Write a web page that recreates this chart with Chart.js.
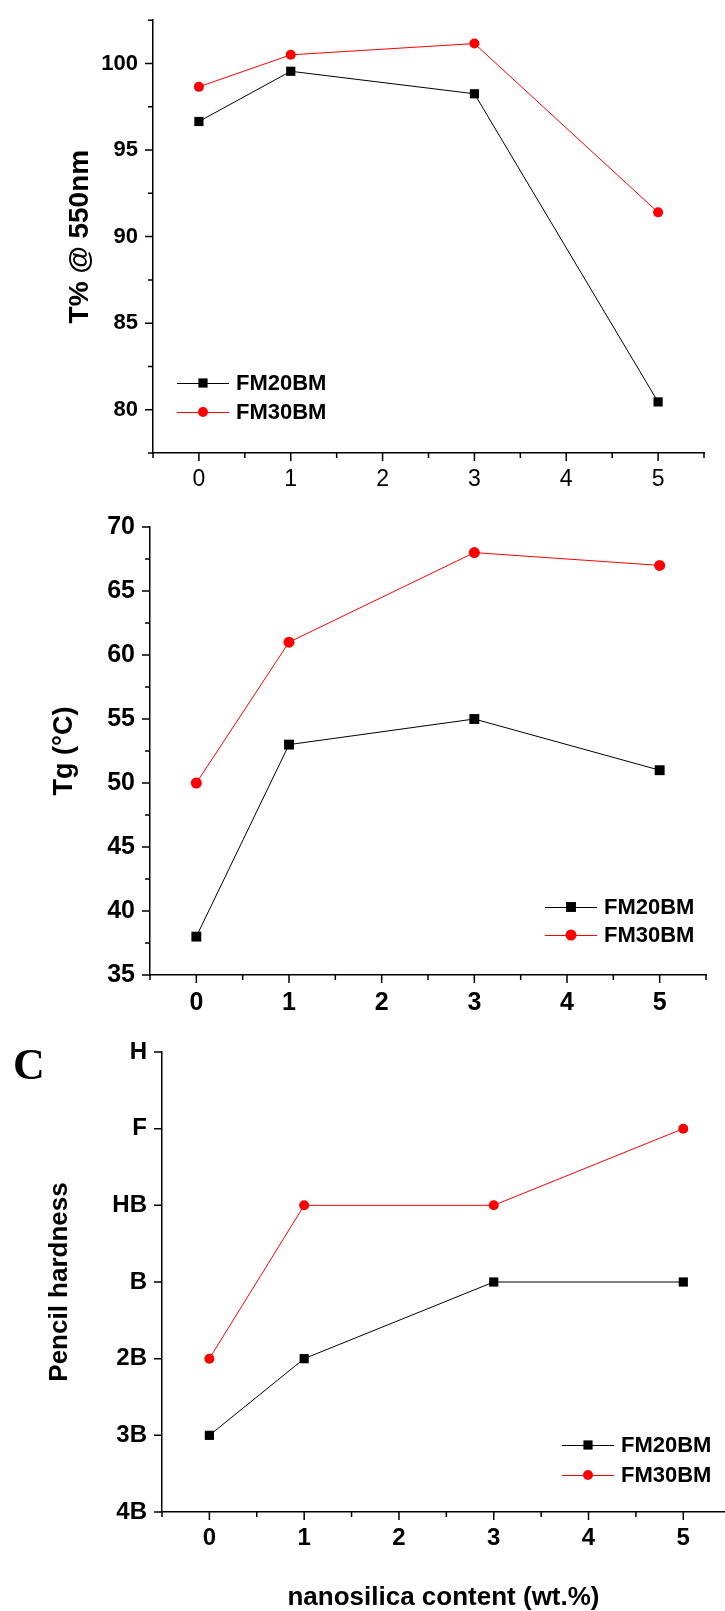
<!DOCTYPE html>
<html>
<head>
<meta charset="utf-8">
<script src="https://cdn.jsdelivr.net/npm/chart.js@4.4.1/dist/chart.umd.min.js"></script>
<style>
  html, body { margin: 0; padding: 0; background: #fff; }
  body { width: 725px; height: 1611px; position: relative; overflow: hidden; }
  .panel { position: absolute; left: 0; width: 725px; }
  .panel canvas { display: block; }
  #panelC { position: absolute; left: 13px; top: 1040px; font: bold 44px "Liberation Serif", "Times New Roman", serif; line-height: 50px; color: #000; }
</style>
</head>
<body>
<div class="panel" style="top:0"><canvas id="chartT" width="725" height="500"></canvas></div>
<div class="panel" style="top:500px"><canvas id="chartTg" width="725" height="520"></canvas></div>
<div class="panel" style="top:1020px"><canvas id="chartH" width="725" height="591"></canvas></div>
<div id="panelC">C</div>
<script>
// nanosilica content (wt.%) used in all three panels
const nanosilica = [0, 1, 3, 5];
const seriesNames = ['FM20BM', 'FM30BM'];

// top panel: transmittance at 550 nm
const transFM20BM = [96.65, 99.55, 98.25, 80.45];
const transFM30BM = [98.65, 100.5, 101.15, 91.4];
const transTicks = [80, 85, 90, 95, 100];

// middle panel: glass transition temperature
const tgFM20BM = [38, 53, 55, 51];
const tgFM30BM = [50, 61, 68, 67];
const tgTicks = [35, 40, 45, 50, 55, 60, 65, 70];

// bottom panel: pencil hardness, softest first
const hardnessScale = ['4B', '3B', '2B', 'B', 'HB', 'F', 'H'];
const hardFM20BM = ['3B', '2B', 'B', 'B'];
const hardFM30BM = ['2B', 'HB', 'HB', 'F'];

const FONT = '"Liberation Sans", Arial, sans-serif';

// outward ticks, long on labelled values, short on the half steps
const outerTicks = {
  id: 'outerTicks',
  afterDraw(chart) {
    const ctx = chart.ctx;
    const area = chart.chartArea;
    ctx.save();
    ctx.strokeStyle = '#000';
    ctx.lineWidth = 1.5;
    ctx.beginPath();
    chart.scales.x.ticks.forEach(t => {
      if (!Number.isInteger(Math.round(t.value * 1000) / 500)) return;
      const px = chart.scales.x.getPixelForValue(t.value);
      const len = t.label !== '' ? 8 : 5;
      ctx.moveTo(px, area.bottom);
      ctx.lineTo(px, area.bottom + len);
    });
    chart.scales.y.ticks.forEach(t => {
      const py = chart.scales.y.getPixelForValue(t.value);
      const len = t.label !== '' ? 8 : 5;
      ctx.moveTo(area.left, py);
      ctx.lineTo(area.left - len, py);
    });
    ctx.stroke();
    ctx.restore();
  }
};

// legend drawn inside the plot: short line with the marker in the middle
const insetLegend = {
  id: 'insetLegend',
  afterDraw(chart, args, opts) {
    const ctx = chart.ctx;
    ctx.save();
    ctx.font = 'bold 22px ' + FONT;
    ctx.textBaseline = 'middle';
    chart.data.datasets.forEach((ds, i) => {
      const y = opts.y + i * opts.gap;
      const x0 = opts.x, x1 = opts.x + 52, xm = (x0 + x1) / 2;
      ctx.strokeStyle = ds.borderColor;
      ctx.lineWidth = 1;
      ctx.beginPath();
      ctx.moveTo(x0, y + 0.5);
      ctx.lineTo(x1, y + 0.5);
      ctx.stroke();
      ctx.fillStyle = ds.pointBackgroundColor;
      ctx.beginPath();
      if (ds.pointStyle === 'rect') {
        const s = ds.pointRadius * Math.SQRT1_2;
        ctx.rect(xm - s, y - s, 2 * s, 2 * s);
      } else {
        ctx.arc(xm, y, ds.pointRadius, 0, Math.PI * 2);
      }
      ctx.fill();
      ctx.fillStyle = '#000';
      ctx.fillText(ds.label, x1 + 7, y + 1);
    });
    ctx.restore();
  }
};

function series(name, ys, color, style, r) {
  return {
    label: name,
    data: nanosilica.map((x, i) => ({ x: x, y: ys[i] })),
    borderColor: color,
    borderWidth: 1,
    pointStyle: style,
    pointRadius: r,
    pointBackgroundColor: color,
    pointBorderWidth: 0,
    clip: false
  };
}

function makeChart(id, cfg) {
  return new Chart(document.getElementById(id), {
    type: 'line',
    data: { datasets: cfg.datasets },
    options: {
      responsive: false,
      animation: false,
      events: [],
      layout: { autoPadding: false, padding: { left: 0, top: cfg.top, right: cfg.right, bottom: 0 } },
      plugins: {
        legend: { display: false },
        tooltip: { enabled: false },
        insetLegend: cfg.legend
      },
      scales: {
        x: {
          type: 'linear',
          min: -0.5,
          max: cfg.xMax,
          afterFit: s => { s.height = cfg.xHeight; s.paddingRight = 0; },
          border: { display: true, color: '#000', width: 1.5 },
          grid: { drawOnChartArea: false, drawTicks: true, tickLength: 8, color: 'transparent' },
          ticks: {
            stepSize: 0.5,
            includeBounds: false,
            autoSkip: false,
            maxRotation: 0,
            padding: cfg.xPad,
            color: '#000',
            font: cfg.xFont,
            callback: v => Number.isInteger(v) ? String(v) : ''
          },
          title: cfg.xTitle || { display: false }
        },
        y: {
          type: 'linear',
          min: cfg.yMin,
          max: cfg.yMax,
          afterFit: s => { s.width = cfg.yWidth; },
          border: { display: true, color: '#000', width: 1.5 },
          grid: { drawOnChartArea: false, drawTicks: true, tickLength: 8, color: 'transparent' },
          ticks: {
            stepSize: cfg.yStep,
            autoSkip: false,
            padding: 7,
            color: '#000',
            font: cfg.yFont,
            callback: cfg.yLabel
          },
          title: {
            display: true,
            text: cfg.yTitle,
            color: '#000',
            font: { family: FONT, size: cfg.yTitleSize, weight: 'bold', lineHeight: 1 },
            padding: { top: cfg.yTitlePad, bottom: 0 }
          }
        }
      }
    },
    plugins: [outerTicks, insetLegend]
  });
}

makeChart('chartT', {
  datasets: [
    series(seriesNames[0], transFM20BM, '#000000', 'rect', 6.5),
    series(seriesNames[1], transFM30BM, '#ff0000', 'circle', 5)
  ],
  top: 8, right: 21, xHeight: 47, yWidth: 153,
  xMax: 5.5, xPad: 5,
  xFont: { family: FONT, size: 23 },
  yMin: 77.5, yMax: 102.5, yStep: 2.5,
  yFont: { family: FONT, size: 22, weight: 'bold' },
  yLabel: v => transTicks.includes(v) ? String(v) : '',
  yTitle: 'T% @ 550nm', yTitleSize: 28, yTitlePad: 66,
  legend: { x: 177, y: 383, gap: 29 }
});

makeChart('chartTg', {
  datasets: [
    series(seriesNames[0], tgFM20BM, '#000000', 'rect', 7),
    series(seriesNames[1], tgFM30BM, '#ff0000', 'circle', 5.5)
  ],
  top: 27, right: 19, xHeight: 45, yWidth: 150,
  xMax: 5.5, xPad: 5,
  xFont: { family: FONT, size: 25, weight: 'bold' },
  yMin: 35, yMax: 70, yStep: 2.5,
  yFont: { family: FONT, size: 25, weight: 'bold' },
  yLabel: v => tgTicks.includes(v) ? String(v) : '',
  yTitle: 'Tg (°C)', yTitleSize: 27, yTitlePad: 51,
  legend: { x: 545, y: 407, gap: 28 }
});

makeChart('chartH', {
  datasets: [
    series(seriesNames[0], hardFM20BM.map(g => hardnessScale.indexOf(g)), '#000000', 'rect', 6.5),
    series(seriesNames[1], hardFM30BM.map(g => hardnessScale.indexOf(g)), '#ff0000', 'circle', 5)
  ],
  top: 32, right: 0, xHeight: 99, yWidth: 162,
  xMax: 5.44, xPad: 4,
  xFont: { family: FONT, size: 24, weight: 'bold' },
  yMin: 0, yMax: 6, yStep: 1,
  yFont: { family: FONT, size: 24, weight: 'bold' },
  yLabel: v => hardnessScale[v] || '',
  yTitle: 'Pencil hardness', yTitleSize: 26, yTitlePad: 47,
  xTitle: {
    display: true,
    text: 'nanosilica content (wt.%)',
    color: '#000',
    font: { family: FONT, size: 26, weight: 'bold', lineHeight: 1 },
    padding: { top: 0, bottom: 0 }
  },
  legend: { x: 562, y: 425, gap: 30 }
});
</script>
</body>
</html>
